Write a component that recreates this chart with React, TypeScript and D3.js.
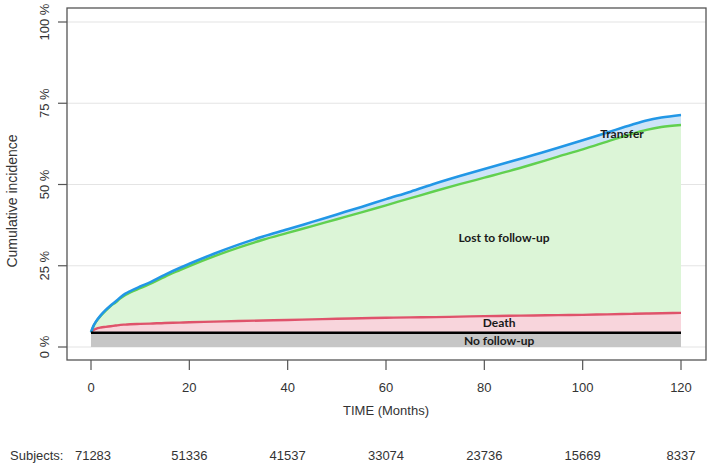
import React from "react";
import * as d3 from "d3";

// months
const months = [0, 0.5, 1, 2, 3, 4, 5, 6, 7, 8, 10, 12, 15, 18, 20, 25, 30, 35, 40, 45, 50, 55, 60, 65, 70, 75, 80, 85, 90, 95, 100, 105, 110, 113, 116, 120];

// cumulative incidence (%) at top of each stacked band
const noFollowUp = months.map(() => 4.4);
const death = [4.5, 5.2, 5.6, 6.0, 6.2, 6.4, 6.6, 6.8, 6.9, 7.0, 7.1, 7.2, 7.4, 7.5, 7.6, 7.8, 8.0, 8.15, 8.3, 8.5, 8.7, 8.85, 9.0, 9.1, 9.2, 9.35, 9.5, 9.6, 9.7, 9.8, 9.9, 10.05, 10.2, 10.3, 10.4, 10.5];
const lost = [4.5, 6.4, 7.7, 9.6, 11.2, 12.6, 13.7, 15.0, 16.0, 16.8, 18.1, 19.4, 21.6, 23.6, 24.9, 27.9, 30.6, 33.0, 35.1, 37.2, 39.3, 41.4, 43.6, 45.8, 48.0, 50.1, 52.1, 54.1, 56.3, 58.6, 60.8, 63.2, 65.6, 66.8, 67.7, 68.3];
const transfer = [4.5, 6.5, 7.8, 9.8, 11.4, 12.8, 14.0, 15.3, 16.4, 17.2, 18.6, 19.9, 22.2, 24.3, 25.6, 28.7, 31.5, 34.0, 36.2, 38.5, 40.8, 43.1, 45.5, 47.8, 50.3, 52.6, 54.8, 56.9, 59.1, 61.3, 63.6, 66.0, 68.4, 69.7, 70.6, 71.4];

const xTicks = [0, 20, 40, 60, 80, 100, 120];
const yTicks = [0, 25, 50, 75, 100];
const subjects = ["71283", "51336", "41537", "33074", "23736", "15669", "8337"];

const bandLabels = [
  { text: "Transfer", t: 108, v: 64.4 },
  { text: "Lost to follow-up", t: 84, v: 32.4 },
  { text: "Death", t: 83, v: 6.1 },
  { text: "No follow-up", t: 83, v: 0.6 },
];

const W = 709;
const H = 472;
const box = { left: 67, right: 706, top: 8, bottom: 360 };

export default function App() {
  const x = d3.scaleLinear().domain([0, 120]).range([91, 681]);
  const y = d3.scaleLinear().domain([0, 100]).range([347, 22]);

  const pts = months.map((m, i) => ({
    m,
    nf: noFollowUp[i],
    de: death[i],
    lo: lost[i],
    tr: transfer[i],
  }));
  type P = (typeof pts)[number];

  const band = (lo: (p: P) => number, hi: (p: P) => number) =>
    d3
      .area<P>()
      .curve(d3.curveMonotoneX)
      .x((p) => x(p.m))
      .y0((p) => y(lo(p)))
      .y1((p) => y(hi(p)))(pts) ?? "";
  const line = (f: (p: P) => number) =>
    d3
      .line<P>()
      .curve(d3.curveMonotoneX)
      .x((p) => x(p.m))
      .y((p) => y(f(p)))(pts) ?? "";

  const axisFont = "'Liberation Sans', Arial, sans-serif";
  const labelFont = "Lato, 'Open Sans', sans-serif";

  return (
    <svg width={W} height={H} style={{ position: "absolute", left: 0, top: 0, background: "#fff" }}>
      {/* grid */}
      {yTicks.map((t) => (
        <line key={t} x1={box.left} x2={box.right} y1={y(t)} y2={y(t)} stroke="#e4e4e4" strokeWidth={1.2} />
      ))}

      {/* stacked bands */}
      <path d={band(() => 0, (p) => p.nf)} fill="#c6c6c6" />
      <path d={band((p) => p.nf, (p) => p.de)} fill="#f8d5dc" />
      <path d={band((p) => p.de, (p) => p.lo)} fill="#dcf5d7" />
      <path d={band((p) => p.lo, (p) => p.tr)} fill="#cde4f7" />

      {/* curves */}
      <path d={line((p) => p.de)} fill="none" stroke="#DF536B" strokeWidth={2.4} />
      <path d={line((p) => p.lo)} fill="none" stroke="#61D04F" strokeWidth={2.4} />
      <path d={line((p) => p.tr)} fill="none" stroke="#2297E6" strokeWidth={2.6} />
      <path d={line((p) => p.nf)} fill="none" stroke="#000" strokeWidth={2.6} />

      {/* band labels */}
      {bandLabels.map((l) => (
        <text
          key={l.text}
          x={x(l.t)}
          y={y(l.v)}
          textAnchor="middle"
          fontFamily={labelFont}
          fontWeight={700}
          fontSize={12}
          fill="#1a1a1a"
        >
          {l.text}
        </text>
      ))}

      {/* box */}
      <rect
        x={box.left}
        y={box.top}
        width={box.right - box.left}
        height={box.bottom - box.top}
        fill="none"
        stroke="#555"
        strokeWidth={1.3}
      />

      {/* y axis */}
      {yTicks.map((t) => (
        <g key={t}>
          <line x1={box.left - 9} x2={box.left} y1={y(t)} y2={y(t)} stroke="#555" strokeWidth={1.2} />
          <text
            transform={`translate(${49},${y(t)}) rotate(-90)`}
            textAnchor="middle"
            fontFamily={axisFont}
            fontSize={13}
            fill="#333"
          >
            {`${t} %`}
          </text>
        </g>
      ))}
      <text
        transform={`translate(17,201) rotate(-90)`}
        textAnchor="middle"
        fontFamily={axisFont}
        fontSize={14}
        fill="#333"
      >
        Cumulative incidence
      </text>

      {/* x axis */}
      {xTicks.map((t, i) => (
        <g key={t}>
          <line x1={x(t)} x2={x(t)} y1={box.bottom} y2={box.bottom + 10} stroke="#555" strokeWidth={1.2} />
          <text x={x(t)} y={392} textAnchor="middle" fontFamily={axisFont} fontSize={13} fill="#333">
            {t}
          </text>
          <text x={x(t) + (i === 0 ? 2 : 0)} y={460} textAnchor="middle" fontFamily={axisFont} fontSize={13} fill="#333">
            {subjects[i]}
          </text>
        </g>
      ))}
      <text x={386} y={415} textAnchor="middle" fontFamily={axisFont} fontSize={13} fill="#333">
        TIME (Months)
      </text>
      <text x={10} y={460} fontFamily={axisFont} fontSize={13} fill="#333">
        Subjects:
      </text>
    </svg>
  );
}
